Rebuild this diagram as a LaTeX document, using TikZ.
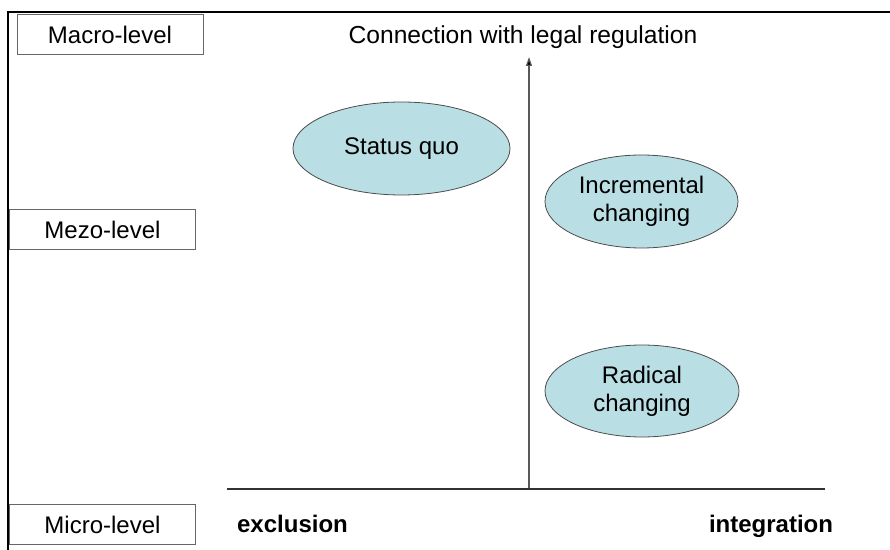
\documentclass[tikz,border=0pt]{standalone}
\usepackage{fontspec}
\setmainfont{Liberation Sans}
\usetikzlibrary{arrows.meta, positioning, shapes.geometric}

\definecolor{blobfill}{RGB}{185,222,228}

\begin{document}
\begin{tikzpicture}[
  x=0.5pt, y=-0.5pt,
  every node/.style={font=\fontsize{12}{14}\selectfont},
  level/.style={draw=gray!80!black, minimum width=93pt, minimum height=20pt, inner sep=0pt},
  blob/.style={ellipse, draw=black!70, fill=blobfill, inner sep=0pt, align=center},
  axis/.style={draw=black!65, line width=0.6pt},
  pole/.style={font=\fontsize{12}{14}\selectfont\bfseries, anchor=base, inner sep=0pt}
]
\useasboundingbox (0,0) rectangle (890,550);

% frame of the slide
\draw[line width=1pt] (8,550) -- (8,12) -- (890,12);

% levels on the left
\node[level] (macro) at (110,34.5) {Macro-level};
\node[level] (mezo) at (102.5,229.5) {Mezo-level};
\node[level] (micro) at (102.5,524.5) {Micro-level};

% axes
\coordinate (o) at (529,489);
\coordinate (top) at (529,57);
\coordinate (left) at (227,489);
\coordinate (right) at (825,489);
\draw[axis, -{Triangle[width=3pt, length=4.5pt, fill=black]}] (o) -- (top);
\draw[axis, draw=black!80] (left) -- (right);

\node[font=\fontsize{12.3}{14}\selectfont] (title) at (523,37) {Connection with legal regulation};
\node[pole] (excl) at (292.5,533) {exclusion};
\node[pole] (integ) at (771,533) {integration};

% the three options
\node[blob, minimum width=108.5pt, minimum height=46.5pt] (status) at (401.5,148.5) {Status quo};
\node[blob, minimum width=96.5pt, minimum height=46.5pt] (incr) at (641.5,201.5) {Incremental\\changing};
\node[blob, minimum width=97pt, minimum height=46pt] (radical) at (642,391) {Radical\\changing};
\end{tikzpicture}
\end{document}
